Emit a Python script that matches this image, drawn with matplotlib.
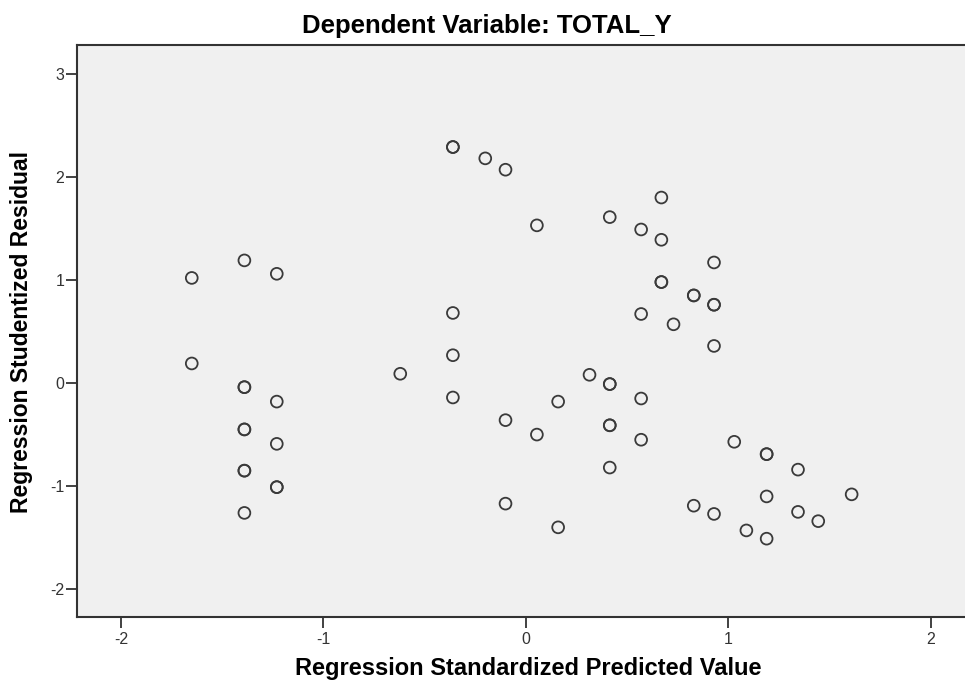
import matplotlib.pyplot as plt
import numpy as np

plt.rcParams['font.family'] = ['Liberation Sans', 'DejaVu Sans']

# standardized predicted value (x) and studentized residual (y)
# repeated pairs are overlapping points (drawn darker in the original)
pred = [-1.65, -1.39, -1.23, -1.65, -1.39, -1.39, -1.23, -1.39, -1.39, -1.23,
        -1.39, -1.39, -1.23, -1.23, -1.39,
        -0.36, -0.36, -0.20, -0.10, -0.36, -0.62, -0.36, -0.36,
        0.055, 0.415, 0.57, 0.67, 0.67, 0.93, 0.67, 0.67, 0.83, 0.83, 0.93, 0.93,
        0.57, 0.73, 0.93,
        0.315, 0.415, 0.415, 0.16, 0.57, -0.10, 0.055, 0.415, 0.415, 0.57,
        1.03, 1.19, 1.19, 1.345, 0.415, -0.10, 0.16, 0.83, 0.93, 1.19,
        1.61, 1.345, 1.445, 1.09, 1.19]
resid = [1.02, 1.19, 1.06, 0.19, -0.04, -0.04, -0.18, -0.45, -0.45, -0.59,
         -0.85, -0.85, -1.01, -1.01, -1.26,
         2.29, 2.29, 2.18, 2.07, 0.68, 0.09, 0.27, -0.14,
         1.53, 1.61, 1.49, 1.80, 1.39, 1.17, 0.98, 0.98, 0.85, 0.85, 0.76, 0.76,
         0.67, 0.57, 0.36,
         0.08, -0.01, -0.01, -0.18, -0.15, -0.36, -0.50, -0.41, -0.41, -0.55,
         -0.57, -0.69, -0.69, -0.84, -0.82, -1.17, -1.40, -1.19, -1.27, -1.10,
         -1.08, -1.25, -1.34, -1.43, -1.51]

xticks = [-2, -1, 0, 1, 2]
yticks = [-2, -1, 0, 1, 2, 3]

fig = plt.figure(figsize=(9.65, 6.9), dpi=100)
ax = fig.add_axes([77/965, 1-617/690, 888/965, (617-45)/690])
ax.set_facecolor('#f0f0f0')

ax.scatter(pred, resid, s=72, facecolors='none', edgecolors='#3a3a3a', linewidths=1.3, zorder=3)

ax.set_xlim(-2.217, 2.17)
ax.set_ylim(-2.27, 3.28)
ax.set_xticks(xticks)
ax.set_yticks(yticks)
ax.set_xticklabels([str(t) for t in xticks])
ax.set_yticklabels([str(t) for t in yticks])
ax.tick_params(axis='both', direction='out', width=1.3, colors='#333333', labelsize=11.5)
ax.tick_params(axis='x', length=8, pad=3)
ax.tick_params(axis='y', length=8, pad=1)

for s in ['left', 'bottom', 'top']:
    ax.spines[s].set_linewidth(1.5)
    ax.spines[s].set_color('#333333')
ax.spines['right'].set_visible(False)

fig.text(487/965, 1-26/690, 'Dependent Variable: TOTAL_Y', ha='center', va='center',
         fontsize=18.5, fontweight='bold')
fig.text(528/965, 1-669/690, 'Regression Standardized Predicted Value', ha='center', va='center',
         fontsize=17, fontweight='bold')
fig.text(22/965, 1-332/690, 'Regression Studentized Residual', ha='center', va='center',
         rotation=90, fontsize=16.5, fontweight='bold')

fig.savefig('out.png', dpi=100)
